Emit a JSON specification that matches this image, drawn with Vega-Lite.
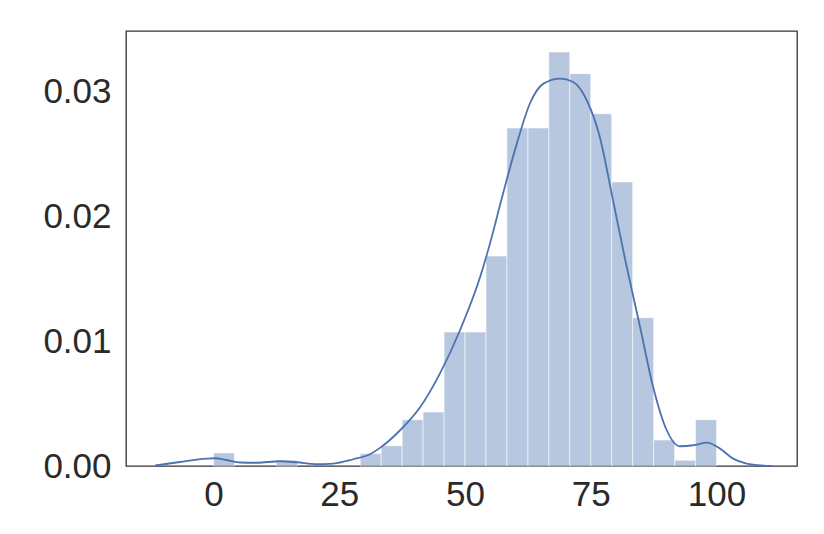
{
  "$schema": "https://vega.github.io/schema/vega-lite/v6.json",
  "width": 671,
  "height": 435,
  "autosize": {"type": "none"},
  "padding": {"left": 126, "top": 31, "right": 27, "bottom": 68},
  "background": "white",
  "config": {
    "view": {"stroke": "#333333", "strokeWidth": 1.3},
    "axis": {
      "grid": false, "ticks": false, "domain": false,
      "labelFont": "Liberation Sans", "labelFontSize": 35, "labelColor": "#2a2a2a",
      "title": null
    }
  },
  "datasets": {
    "bars": [
      {"bin_start": 0, "bin_end": 4.1667, "density": 0.00104},
      {"bin_start": 12.5, "bin_end": 16.6667, "density": 0.00046},
      {"bin_start": 29.1667, "bin_end": 33.3333, "density": 0.00099},
      {"bin_start": 33.3333, "bin_end": 37.5, "density": 0.00162},
      {"bin_start": 37.5, "bin_end": 41.6667, "density": 0.00371},
      {"bin_start": 41.6667, "bin_end": 45.8333, "density": 0.00432},
      {"bin_start": 45.8333, "bin_end": 50, "density": 0.01072},
      {"bin_start": 50, "bin_end": 54.1667, "density": 0.01072},
      {"bin_start": 54.1667, "bin_end": 58.3333, "density": 0.0168},
      {"bin_start": 58.3333, "bin_end": 62.5, "density": 0.02704},
      {"bin_start": 62.5, "bin_end": 66.6667, "density": 0.02704},
      {"bin_start": 66.6667, "bin_end": 70.8333, "density": 0.03312},
      {"bin_start": 70.8333, "bin_end": 75, "density": 0.03139},
      {"bin_start": 75, "bin_end": 79.1667, "density": 0.02818},
      {"bin_start": 79.1667, "bin_end": 83.3333, "density": 0.02272},
      {"bin_start": 83.3333, "bin_end": 87.5, "density": 0.01186},
      {"bin_start": 87.5, "bin_end": 91.6667, "density": 0.00208},
      {"bin_start": 91.6667, "bin_end": 95.8333, "density": 0.00046},
      {"bin_start": 95.8333, "bin_end": 100, "density": 0.00371}
    ],
    "kde": [
      {"x": -11.6, "density": 0.00004},
      {"x": -6.7, "density": 0.00032},
      {"x": -1.35, "density": 0.00059},
      {"x": 0.3, "density": 0.00062},
      {"x": 2.6, "density": 0.00048},
      {"x": 5.3, "density": 0.00028},
      {"x": 8.6, "density": 0.00026},
      {"x": 13.2, "density": 0.00038},
      {"x": 16.5, "density": 0.0003},
      {"x": 20.5, "density": 0.00014},
      {"x": 23.8, "density": 0.00019},
      {"x": 27.8, "density": 0.00054},
      {"x": 31.1, "density": 0.00094},
      {"x": 33.1, "density": 0.00145},
      {"x": 37.1, "density": 0.00286},
      {"x": 41.1, "density": 0.00472},
      {"x": 45.0, "density": 0.00739},
      {"x": 49.0, "density": 0.01086},
      {"x": 53.0, "density": 0.01512},
      {"x": 55.0, "density": 0.01785},
      {"x": 57.3, "density": 0.0214},
      {"x": 60.3, "density": 0.02579},
      {"x": 62.9, "density": 0.029},
      {"x": 65.6, "density": 0.03059},
      {"x": 68.9, "density": 0.03099},
      {"x": 71.5, "density": 0.03072},
      {"x": 74.2, "density": 0.02926},
      {"x": 76.8, "density": 0.02632},
      {"x": 79.3, "density": 0.0215},
      {"x": 82.0, "density": 0.0162},
      {"x": 84.8, "density": 0.01112},
      {"x": 87.4, "density": 0.00632},
      {"x": 90.1, "density": 0.00286},
      {"x": 92.7, "density": 0.00158},
      {"x": 95.4, "density": 0.00166},
      {"x": 98.1, "density": 0.00187},
      {"x": 100.7, "density": 0.00139},
      {"x": 103.3, "density": 0.00059},
      {"x": 106.0, "density": 0.00019},
      {"x": 109.3, "density": 0.00003},
      {"x": 111.0, "density": 0.0}
    ]
  },
  "layer": [
    {
      "data": {"name": "bars"},
      "mark": {"type": "rect", "fill": "#4c72b0", "fillOpacity": 0.4, "stroke": "#ffffff", "strokeOpacity": 0.55, "strokeWidth": 1},
      "encoding": {
        "x": {"field": "bin_start", "type": "quantitative",
              "scale": {"domain": [-17.4, 116.0], "nice": false, "zero": false},
              "axis": {"values": [0, 25, 50, 75, 100], "labelPadding": 11}},
        "x2": {"field": "bin_end"},
        "y": {"field": "density", "type": "quantitative",
              "scale": {"domain": [0, 0.0348], "nice": false},
              "axis": {"values": [0, 0.01, 0.02, 0.03], "format": ".2f", "labelPadding": 15}},
        "y2": {"datum": 0}
      }
    },
    {
      "data": {"name": "kde"},
      "mark": {"type": "line", "color": "#4c72b0", "strokeWidth": 1.8, "interpolate": "monotone"},
      "encoding": {
        "x": {"field": "x", "type": "quantitative"},
        "y": {"field": "density", "type": "quantitative"}
      }
    }
  ]
}
